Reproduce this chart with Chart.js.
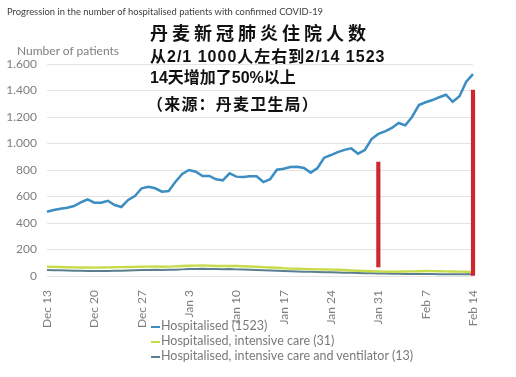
<!DOCTYPE html>
<html>
<head>
<meta charset="utf-8">
<script src="https://cdn.jsdelivr.net/npm/chart.js@4.4.1/dist/chart.umd.min.js"></script>
<style>
  body { margin: 0; background: #fff; }
  #wrap { position: relative; width: 516px; height: 377px; overflow: hidden; }
  #wrap canvas { position: absolute; left: 0; top: 0; }
  .txt { position: absolute; white-space: nowrap; }
  .title { left: 7px; top: 6px; font: 9.4px Lato, sans-serif; color: #404040; }
  .ytitle { left: 17px; top: 43px; font: 12px Lato, sans-serif; color: #7f7f7f; }
  .cn { font-family: "Liberation Sans", "Noto Sans CJK SC", sans-serif; font-weight: 700; color: #111; }
  .cn1 { left: 150px; top: 19px; font-size: 18px; letter-spacing: 4px; }
  .cn2 { left: 150px; top: 43px; font-size: 16px; letter-spacing: 1px; }
  .cn3 { left: 150px; top: 64px; font-size: 16px; }
  .cn4 { left: 147px; top: 91px; font-size: 16px; letter-spacing: 1.2px; }
  #legend { position: absolute; left: 151px; top: 318px; font: 12.5px Lato, sans-serif; color: #7a7a7a; line-height: 15px; }
  #legend .mk { display: inline-block; width: 9px; height: 2px; vertical-align: middle; margin-right: 1px; }
</style>
</head>
<body>
<div id="wrap">
  <canvas id="hospChart" width="516" height="377"></canvas>
  <div class="txt title">Progression in the number of hospitalised patients with confirmed COVID-19</div>
  <div class="txt ytitle">Number of patients</div>
  <div class="txt cn cn1">丹麦新冠肺炎住院人数</div>
  <div class="txt cn cn2">从2/1 1000人左右到2/14 1523</div>
  <div class="txt cn cn3">14天增加了50%以上</div>
  <div class="txt cn cn4">（来源：丹麦卫生局）</div>
  <div id="legend"></div>
</div>
<script>
// Dec 13 -> Feb 14, one point per day
const tickLabels = ["Dec 13", "Dec 20", "Dec 27", "Jan 3", "Jan 10", "Jan 17", "Jan 24", "Jan 31", "Feb 7", "Feb 14"];

const hospitalised = [
  485, 498, 508, 515, 528, 556, 579, 553, 553, 568, 536, 521, 574, 604,
  662, 674, 662, 636, 641, 712, 770, 800, 787, 755, 755, 730, 722, 775,
  750, 747, 752, 752, 709, 730, 802, 810, 823, 825, 815, 780, 815, 893,
  913, 935, 952, 963, 923, 951, 1034, 1072, 1092, 1117, 1155, 1137, 1202, 1290,
  1311, 1328, 1349, 1368, 1315, 1356, 1466, 1523
];
const intensiveCare = [
  70, 69, 68, 66, 65, 64, 64, 63, 64, 65, 66, 67, 68, 69,
  70, 71, 72, 70, 71, 73, 75, 77, 78, 79, 78, 76, 75, 76,
  75, 74, 72, 70, 67, 64, 62, 58, 56, 55, 54, 52, 50, 49,
  48, 47, 45, 42, 40, 38, 36, 35, 33, 32, 33, 34, 35, 36,
  38, 37, 36, 35, 34, 33, 32, 31
];
const ventilator = [
  45, 44, 43, 42, 40, 39, 38, 37, 37, 38, 39, 40, 42, 43,
  45, 46, 47, 46, 47, 48, 50, 52, 53, 54, 53, 52, 51, 52,
  50, 49, 47, 45, 43, 41, 40, 37, 35, 34, 33, 32, 30, 29,
  28, 27, 25, 24, 22, 21, 20, 19, 18, 17, 17, 16, 16, 15,
  15, 15, 14, 14, 14, 13, 13, 13
];
const seriesNames = ["Hospitalised (1523)", "Hospitalised, intensive care (31)", "Hospitalised, intensive care and ventilator (13)"];
const seriesColors = ["#3b8dc2", "#c8dc4a", "#5b7f8e"];

// red marker bars added on the picture: [from, to] at Jan 31 and Feb 14
const markerDays = ["Jan 31", "Feb 14"];
const markerRanges = [[68, 860], [0, 1404]];

const days = [];
const start = new Date(2020, 11, 13);
const months = ["Jan", "Feb", "Mar", "Apr", "May", "Jun", "Jul", "Aug", "Sep", "Oct", "Nov", "Dec"];
for (let i = 0; i < hospitalised.length; i++) {
  const d = new Date(start.getFullYear(), start.getMonth(), start.getDate() + i);
  days.push(months[d.getMonth()] + " " + d.getDate());
}
const markers = days.map((d) => {
  const k = markerDays.indexOf(d);
  return k >= 0 ? markerRanges[k] : null;
});

Chart.defaults.font.family = "Lato";
Chart.defaults.color = "#7f7f7f";

const lineSet = (label, data, color, width) => ({
  type: "line",
  label: label,
  data: data,
  borderColor: color,
  backgroundColor: color,
  borderWidth: width,
  pointRadius: 0,
  tension: 0,
  order: 1,
});

const chart = new Chart(document.getElementById("hospChart"), {
  type: "line",
  data: {
    labels: days,
    datasets: [
      lineSet(seriesNames[0], hospitalised, seriesColors[0], 2.5),
      lineSet(seriesNames[1], intensiveCare, seriesColors[1], 2.4),
      lineSet(seriesNames[2], ventilator, seriesColors[2], 2),
      {
        type: "bar",
        label: "marker",
        data: markers,
        backgroundColor: "#d0262d",
        barThickness: 3.5,
        clip: false,
        order: 0,
      },
    ],
  },
  options: {
    responsive: false,
    animation: false,
    layout: { padding: { left: 0, right: 43, top: 64, bottom: 0 } },
    plugins: {
      legend: { display: false },
      tooltip: { enabled: false },
      title: { display: false },
    },
    scales: {
      x: {
        type: "category",
        offset: false,
        grid: { display: false, offset: false },
        border: { display: false },
        ticks: {
          autoSkip: false,
          maxRotation: 90,
          minRotation: 90,
          padding: 6,
          font: { size: 12 },
          callback: (v, i) => (i % 7 === 0 ? tickLabels[i / 7] : ""),
        },
        afterFit: (s) => { s.height = 101; },
      },
      y: {
        min: 0,
        max: 1600,
        grid: { color: "#e4e4e4", drawTicks: false },
        border: { display: false },
        ticks: {
          stepSize: 200,
          padding: 10,
          font: { size: 12 },
          callback: (v) => String(v).replace(/\B(?=(\d{3})+(?!\d))/g, "."),
        },
        afterFit: (s) => { s.width = 47; },
      },
    },
  },
});

// legend below the plot, one entry per row
const legend = document.getElementById("legend");
chart.data.datasets.slice(0, 3).forEach((ds) => {
  const row = document.createElement("div");
  row.innerHTML = '<span class="mk" style="background:' + ds.borderColor + '"></span>' + ds.label;
  legend.appendChild(row);
});
</script>
</body>
</html>
